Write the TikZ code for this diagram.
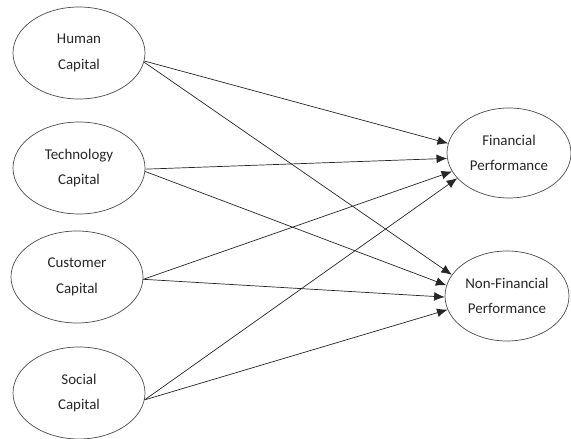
\documentclass[tikz,border=0pt]{standalone}
\usepackage{fontspec}
\setmainfont{Carlito}
\usetikzlibrary{shapes.geometric,arrows.meta}

\begin{document}
\begin{tikzpicture}[>={Latex[length=6pt,width=5pt]},
	var/.style={draw=black!70,ellipse,minimum width=2.64cm,minimum height=1.84cm,
		inner sep=0pt,align=center,font=\fontsize{8.5}{14.5}\selectfont,text=black!85},
	link/.style={->,draw=black!85}]
	\useasboundingbox (0,0) rectangle (11.42,8.78);
	% capitals
	\node[var] (hc) at (1.58,7.72) {Human\\Capital};
	\node[var] (tc) at (1.58,5.42) {Technology\\Capital};
	\node[var] (cc) at (1.54,3.24) {Customer\\Capital};
	\node[var] (sc) at (1.58,0.92) {Social\\Capital};
	% performance
	\node[var,minimum width=2.48cm,minimum height=1.8cm] (fp) at (10.18,5.72) {Financial\\Performance};
	\node[var,minimum width=2.48cm,minimum height=1.8cm] (nfp) at (10.14,2.86) {Non-Financial\\Performance};
	\draw[link] (hc.-7) -- (fp.171);
	\draw[link] (tc.-1) -- (fp.185);
	\draw[link] (cc.-2) -- (fp.198);
	\draw[link] (sc.-6) -- (fp.206);
	\draw[link] (hc.-8) -- (nfp.159);
	\draw[link] (tc.-3) -- (nfp.170);
	\draw[link] (cc.-2) -- (nfp.181);
	\draw[link] (sc.-6) -- (nfp.193);
\end{tikzpicture}
\end{document}
